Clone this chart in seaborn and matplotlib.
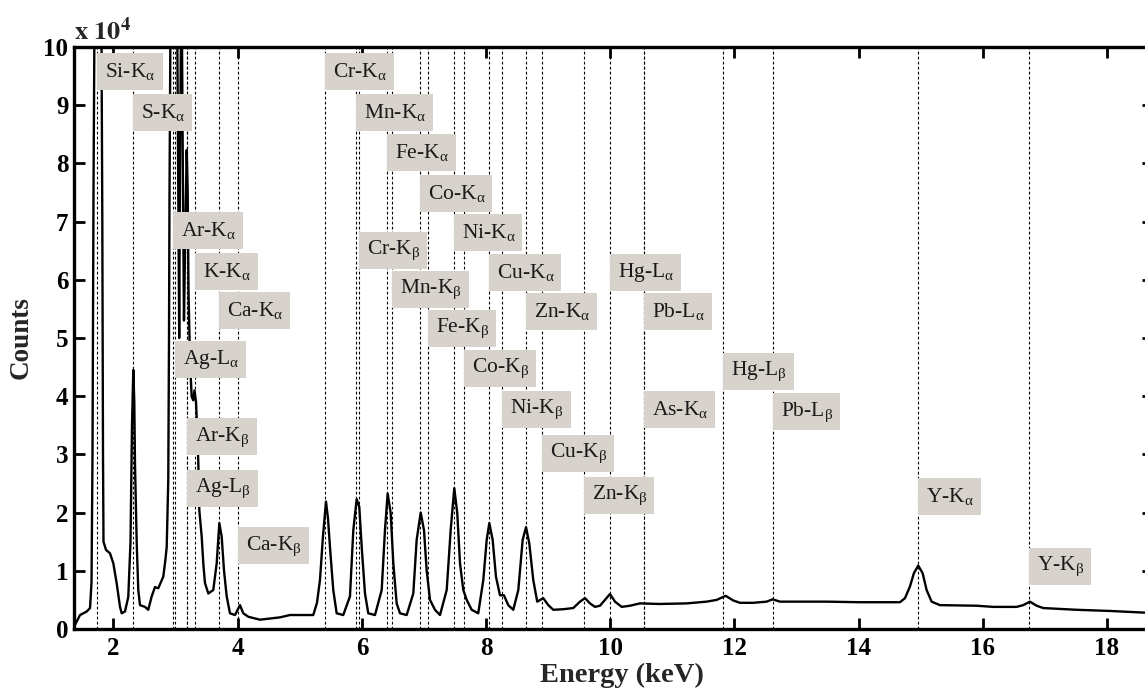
import numpy as np
import pandas as pd
import matplotlib
matplotlib.use("Agg")
import matplotlib.pyplot as plt
import matplotlib.transforms as mtransforms
from matplotlib.patches import Rectangle
import seaborn as sns

# ---- spectrum (energy in keV, counts in units of 1e4) ----
energy_kev = [1.364, 1.380, 1.461, 1.568, 1.622, 1.646, 1.662, 1.678, 1.702, 1.750,
              1.799, 1.820, 1.831, 1.839, 1.879, 1.944, 1.997, 2.052, 2.105, 2.132,
              2.185, 2.238, 2.274, 2.298, 2.319, 2.335, 2.346, 2.374, 2.399, 2.427,
              2.507, 2.560, 2.615, 2.668, 2.721, 2.802, 2.837, 2.857, 2.882, 2.894,
              2.902, 2.910, 2.926, 2.974, 3.023, 3.043, 3.058, 3.071, 3.095, 3.119,
              3.135, 3.159, 3.179, 3.195, 3.208, 3.232, 3.259, 3.285, 3.304, 3.329,
              3.349, 3.366, 3.382, 3.420, 3.446, 3.473, 3.527, 3.607, 3.662, 3.704,
              3.742, 3.779, 3.823, 3.876, 3.957, 4.037, 4.090, 4.171, 4.359, 4.681,
              4.842, 5.003, 5.217, 5.277, 5.325, 5.374, 5.422, 5.454, 5.486, 5.539,
              5.594, 5.700, 5.808, 5.862, 5.916, 5.958, 5.997, 6.050, 6.103, 6.211,
              6.319, 6.372, 6.415, 6.464, 6.506, 6.560, 6.614, 6.721, 6.828, 6.882,
              6.947, 7.000, 7.043, 7.097, 7.177, 7.258, 7.366, 7.430, 7.488, 7.536,
              7.580, 7.633, 7.688, 7.768, 7.874, 7.955, 8.010, 8.052, 8.106, 8.159,
              8.224, 8.288, 8.357, 8.438, 8.519, 8.589, 8.643, 8.696, 8.760, 8.824,
              8.921, 9.002, 9.082, 9.243, 9.404, 9.512, 9.593, 9.673, 9.754, 9.834,
              9.915, 9.995, 10.076, 10.184, 10.317, 10.478, 10.800, 11.230, 11.552, 11.713,
              11.858, 11.981, 12.089, 12.303, 12.519, 12.615, 12.733, 13.485, 14.021, 14.665,
              14.746, 14.826, 14.890, 14.959, 15.030, 15.094, 15.175, 15.309, 15.900, 16.167,
              16.544, 16.650, 16.758, 16.866, 16.972, 17.510, 18.047, 18.611, 18.740]
counts_1e4 = [0.02, 0.07, 0.24, 0.30, 0.36, 0.80, 3.00, 7.50, 12.0, 15.0,
              12.0, 7.00, 3.00, 1.50, 1.36, 1.30, 1.13, 0.78, 0.38, 0.27,
              0.30, 0.55, 1.50, 3.50, 4.45, 3.90, 2.85, 1.47, 0.67, 0.41,
              0.38, 0.33, 0.56, 0.72, 0.70, 0.90, 1.20, 1.41, 2.56, 5.00,
              7.50, 9.00, 12.0, 14.0, 11.0, 7.50, 5.00, 8.00, 11.5, 7.50,
              5.30, 7.00, 8.23, 7.50, 5.80, 4.60, 3.99, 3.93, 4.10, 3.90,
              3.40, 2.85, 2.04, 1.59, 1.13, 0.79, 0.61, 0.67, 1.13, 1.82,
              1.59, 1.01, 0.56, 0.27, 0.24, 0.41, 0.27, 0.21, 0.16, 0.20,
              0.24, 0.24, 0.24, 0.45, 0.84, 1.60, 2.19, 1.90, 1.41, 0.67,
              0.27, 0.24, 0.56, 1.70, 2.23, 2.10, 1.41, 0.61, 0.27, 0.24,
              0.67, 1.70, 2.33, 1.99, 1.13, 0.44, 0.27, 0.24, 0.61, 1.53,
              2.00, 1.70, 1.01, 0.50, 0.33, 0.24, 0.67, 1.70, 2.42, 1.99,
              1.13, 0.67, 0.50, 0.33, 0.27, 0.84, 1.53, 1.82, 1.53, 0.90,
              0.58, 0.58, 0.41, 0.33, 0.67, 1.53, 1.75, 1.47, 0.84, 0.47,
              0.53, 0.41, 0.33, 0.34, 0.36, 0.47, 0.53, 0.44, 0.38, 0.40,
              0.50, 0.60, 0.47, 0.38, 0.40, 0.44, 0.43, 0.44, 0.47, 0.50,
              0.57, 0.49, 0.45, 0.45, 0.47, 0.51, 0.47, 0.47, 0.46, 0.46,
              0.53, 0.73, 0.96, 1.09, 0.96, 0.67, 0.47, 0.41, 0.40, 0.38,
              0.38, 0.41, 0.47, 0.40, 0.36, 0.33, 0.31, 0.28, 0.28]

# ---- emission lines (keV) and where their labels sit (counts, 1e4) ----
line_labels = ["Si-K$_\\mathregular{α}$", "S-K$_\\mathregular{α}$", "Ar-K$_\\mathregular{α}$",
               "K-K$_\\mathregular{α}$", "Ca-K$_\\mathregular{α}$", "Ag-L$_\\mathregular{α}$",
               "Ar-K$_\\mathregular{β}$", "Ag-L$_\\mathregular{β}$", "Ca-K$_\\mathregular{β}$",
               "Cr-K$_\\mathregular{α}$", "Mn-K$_\\mathregular{α}$", "Fe-K$_\\mathregular{α}$",
               "Co-K$_\\mathregular{α}$", "Ni-K$_\\mathregular{α}$", "Cr-K$_\\mathregular{β}$",
               "Cu-K$_\\mathregular{α}$", "Mn-K$_\\mathregular{β}$", "Zn-K$_\\mathregular{α}$",
               "Fe-K$_\\mathregular{β}$", "Co-K$_\\mathregular{β}$", "Ni-K$_\\mathregular{β}$",
               "Cu-K$_\\mathregular{β}$", "Zn-K$_\\mathregular{β}$", "Hg-L$_\\mathregular{α}$",
               "Pb-L$_\\mathregular{α}$", "As-K$_\\mathregular{α}$", "Hg-L$_\\mathregular{β}$",
               "Pb-L$_\\mathregular{β}$", "Y-K$_\\mathregular{α}$", "Y-K$_\\mathregular{β}$"]
line_energies = [1.740, 2.307, 2.957, 3.313, 3.691, 2.984, 3.190, 3.190, 4.013,
                 5.414, 5.898, 6.403, 6.930, 7.477, 5.947, 8.047, 6.490, 8.638,
                 7.058, 7.649, 8.264, 8.904, 9.571, 9.988, 10.551, 10.543, 11.822,
                 12.613, 14.957, 16.737]
label_y = [9.58, 8.88, 6.84, 6.15, 5.47, 4.63, 3.30, 2.42, 1.43,
           9.58, 8.87, 8.19, 7.49, 6.82, 6.51, 6.13, 5.84, 5.45,
           5.17, 4.48, 3.78, 3.02, 2.29, 6.13, 5.45, 3.78, 4.43,
           3.73, 2.27, 1.08]

x_ticks = [2, 4, 6, 8, 10, 12, 14, 16, 18]
y_ticks = [0, 1, 2, 3, 4, 5, 6, 7, 8, 9, 10]

sns.set_theme(style="ticks")
plt.rcParams["font.family"] = ["Liberation Serif", "DejaVu Serif"]
plt.rcParams["mathtext.fontset"] = "stix"

W, H = 1145, 688
fig = plt.figure(figsize=(W / 100, H / 100), dpi=100)
ax = fig.add_axes([74 / W, (H - 629) / H, (1153 - 74) / W, 582 / H])

for e in line_energies:
    ax.axvline(e, color="black", lw=0.8, ls=(0, (2.5, 2)), zorder=1)

df = pd.DataFrame({"Energy": energy_kev, "Counts": counts_1e4})
sns.lineplot(data=df, x="Energy", y="Counts", ax=ax, color="black", lw=1.7,
             estimator=None, sort=False, zorder=3)

ax.set_xlim(1.364, 18.74)
ax.set_ylim(0, 10)
ax.set_xticks(x_ticks)
ax.set_yticks(y_ticks)
ax.tick_params(direction="in", length=8, width=2, top=True, right=True,
               labelsize=18, pad=4, colors="black")
ax.tick_params(axis="x", pad=6)
for lbl in ax.get_xticklabels() + ax.get_yticklabels():
    lbl.set_fontweight("bold")
for s in ax.spines.values():
    s.set_linewidth(2.4)
    s.set_color("black")

ax.set_xlabel("Energy (keV)", fontsize=20.5, fontweight="bold")
ax.set_ylabel("Counts", fontsize=19.5, fontweight="bold")
ax.xaxis.set_label_coords(0.508, -0.059)
ax.yaxis.set_label_coords(-0.037, 0.5)
ax.text(0.0, 1.004, r"$\mathbf{x\ 10^{4}}$", transform=ax.transAxes, ha="left",
        va="bottom", fontsize=19)

# label boxes: text placed just right of its line, grey box drawn around it
fs_lab = 15.5
padx_px, box_h_px = 8.0, 37.0
trans = mtransforms.offset_copy(ax.transData, fig=fig, x=padx_px * 72 / 100, y=0, units="points")
texts = []
for lab, e, yy in zip(line_labels, line_energies, label_y):
    t = ax.text(e, yy, lab, transform=trans, ha="left", va="center", fontsize=fs_lab,
                color="#1a1a1a", zorder=5)
    texts.append((t, e, yy))

fig.canvas.draw()
renderer = fig.canvas.get_renderer()
inv = ax.transData.inverted()
for t, e, yy in texts:
    bb = t.get_window_extent(renderer)
    x0_disp = bb.x0 - padx_px
    x1_disp = bb.x1 + padx_px * 0.85
    yc_disp = ax.transData.transform((e, yy))[1]
    y0_disp = yc_disp - box_h_px / 2
    y1_disp = yc_disp + box_h_px / 2
    (dx0, dy0) = inv.transform((x0_disp, y0_disp))
    (dx1, dy1) = inv.transform((x1_disp, y1_disp))
    ax.add_patch(Rectangle((dx0, dy0), dx1 - dx0, dy1 - dy0, facecolor="#d7d2cb",
                           edgecolor="none", zorder=4, clip_on=False))

fig.savefig("out.png", dpi=100)
